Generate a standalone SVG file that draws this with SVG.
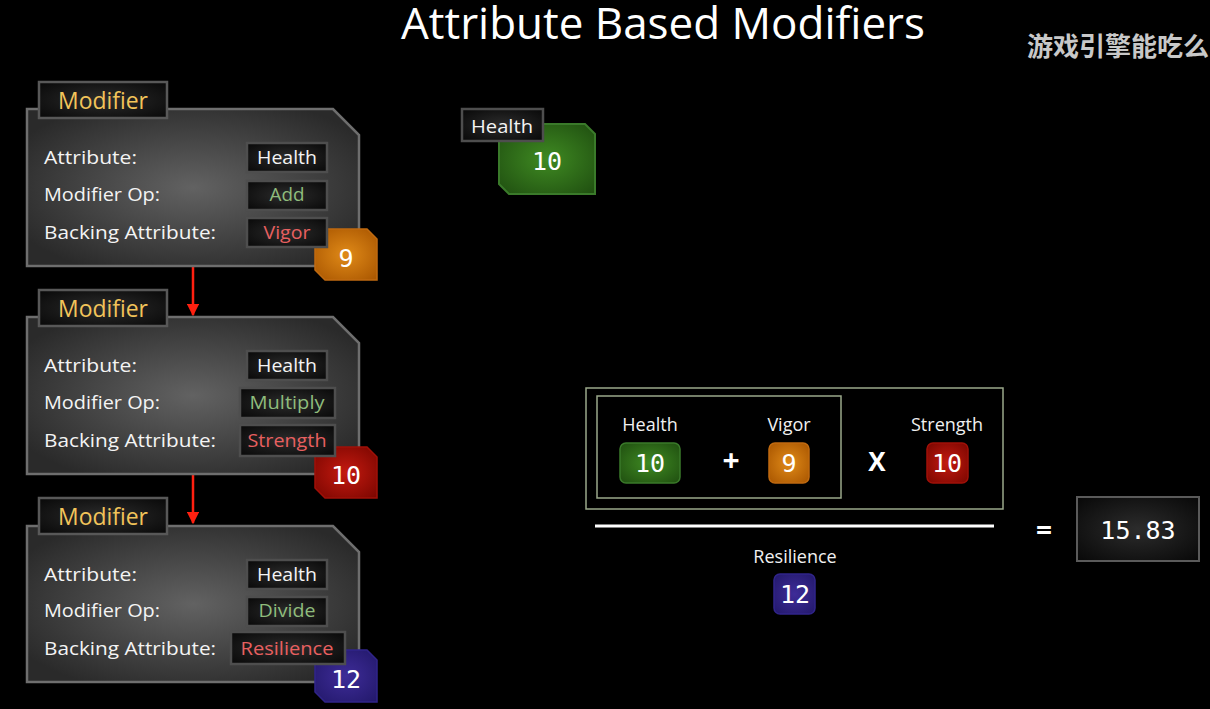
<svg xmlns="http://www.w3.org/2000/svg" width="1210" height="709" viewBox="0 0 1210 709">
<defs>
<radialGradient id="gBody" cx="0.5" cy="0.5" r="0.6"><stop offset="0" stop-color="#626262"/><stop offset="1" stop-color="#2a2a2a"/></radialGradient>
<radialGradient id="gDark" cx="0.5" cy="0.5" r="0.7"><stop offset="0" stop-color="#2c2c2c"/><stop offset="1" stop-color="#080808"/></radialGradient>
<radialGradient id="gGreen" cx="0.5" cy="0.5" r="0.7"><stop offset="0" stop-color="#3f8a22"/><stop offset="1" stop-color="#1f4e10"/></radialGradient>
<radialGradient id="gOrange" cx="0.5" cy="0.5" r="0.7"><stop offset="0" stop-color="#e08a18"/><stop offset="1" stop-color="#a85500"/></radialGradient>
<radialGradient id="gRed" cx="0.5" cy="0.5" r="0.7"><stop offset="0" stop-color="#c41a10"/><stop offset="1" stop-color="#7a0600"/></radialGradient>
<radialGradient id="gPurple" cx="0.5" cy="0.5" r="0.7"><stop offset="0" stop-color="#3e2c98"/><stop offset="1" stop-color="#22186a"/></radialGradient>
<marker id="arr" viewBox="0 0 10 10" refX="9" refY="5" markerWidth="5" markerHeight="5" orient="auto" markerUnits="strokeWidth"><path d="M0,0 L10,5 L0,10 z" fill="#ff2010"/></marker>
</defs>
<style>
.body{fill:url(#gBody);stroke:#6e6e6e;stroke-width:2.5}
.tab{fill:url(#gDark);stroke:#585858;stroke-width:2.5}
.vbox{fill:url(#gDark);stroke:#4e4e4e;stroke-width:2.5}
.title{font-family:"Open Sans","Noto Sans",sans-serif;font-size:23px;fill:#f2c45a}
.lbl{font-family:"Open Sans","Noto Sans",sans-serif;font-size:19px;fill:#f4f4f4}
.val{font-family:"Open Sans","Noto Sans",sans-serif;font-size:19px;text-anchor:middle}
.num{font-family:"DejaVu Sans Mono","Liberation Mono",monospace;font-size:25px;fill:#ffffff;text-anchor:middle}
.small{font-family:"Open Sans","Noto Sans",sans-serif;font-size:18px;fill:#f0f0f0;text-anchor:middle}
.frame{fill:none;stroke:#9aa88a;stroke-width:1.5}
</style>
<rect width="1210" height="709" fill="#000"/>
<text x="401" y="39" font-family="Open Sans,Noto Sans,sans-serif" font-size="44" fill="#fff" textLength="524" lengthAdjust="spacingAndGlyphs">Attribute Based Modifiers</text>
<text x="1027" y="56" font-family="Noto Sans CJK SC,sans-serif" font-weight="bold" font-size="26" fill="#c8c8c8">游戏引擎能吃么</text>

<g id="connectors">
<line x1="193" y1="266" x2="193" y2="315" stroke="#ff2010" stroke-width="2.5" marker-end="url(#arr)"/>
<line x1="193" y1="474" x2="193" y2="523" stroke="#ff2010" stroke-width="2.5" marker-end="url(#arr)"/>
</g>

<g id="modifier1">
<polygon class="body" points="27,109 333,109 359,135 359,266 27,266"/>
<rect class="tab" x="39" y="82" width="128" height="36"/>
<text class="title" x="58" y="109" textLength="90" lengthAdjust="spacingAndGlyphs">Modifier</text>
<text class="lbl" x="44" y="164" textLength="93" lengthAdjust="spacingAndGlyphs">Attribute:</text>
<text class="lbl" x="44" y="201" textLength="116" lengthAdjust="spacingAndGlyphs">Modifier Op:</text>
<text class="lbl" x="44" y="239" textLength="172" lengthAdjust="spacingAndGlyphs">Backing Attribute:</text>
<polygon points="315,229 367,229 377,239 377,280 325,280 315,270" fill="url(#gOrange)" stroke="#c06a10" stroke-width="1.5"/>
<text class="num" x="346" y="267">9</text>
<rect class="vbox" x="247" y="143" width="80" height="29"/>
<text class="val" x="287" y="164" fill="#f4f4f4" textLength="60" lengthAdjust="spacingAndGlyphs">Health</text>
<rect class="vbox" x="247" y="181" width="80" height="29"/>
<text class="val" x="287" y="201" fill="#8fbc7c" textLength="35" lengthAdjust="spacingAndGlyphs">Add</text>
<rect class="vbox" x="247" y="218" width="80" height="29"/>
<text class="val" x="287" y="239" fill="#e86060" textLength="47" lengthAdjust="spacingAndGlyphs">Vigor</text>
</g>

<g id="modifier2">
<polygon class="body" points="27,317 333,317 359,343 359,474 27,474"/>
<rect class="tab" x="39" y="290" width="128" height="36"/>
<text class="title" x="58" y="317" textLength="90" lengthAdjust="spacingAndGlyphs">Modifier</text>
<text class="lbl" x="44" y="372" textLength="93" lengthAdjust="spacingAndGlyphs">Attribute:</text>
<text class="lbl" x="44" y="409" textLength="116" lengthAdjust="spacingAndGlyphs">Modifier Op:</text>
<text class="lbl" x="44" y="447" textLength="172" lengthAdjust="spacingAndGlyphs">Backing Attribute:</text>
<polygon points="315,447 367,447 377,457 377,498 325,498 315,488" fill="url(#gRed)" stroke="#a01008" stroke-width="1.5"/>
<text class="num" x="346" y="484">10</text>
<rect class="vbox" x="247" y="351" width="80" height="29"/>
<text class="val" x="287" y="372" fill="#f4f4f4" textLength="60" lengthAdjust="spacingAndGlyphs">Health</text>
<rect class="vbox" x="240" y="388" width="95" height="30"/>
<text class="val" x="287" y="409" fill="#8fbc7c" textLength="75" lengthAdjust="spacingAndGlyphs">Multiply</text>
<rect class="vbox" x="240" y="425" width="95" height="31"/>
<text class="val" x="287" y="447" fill="#e86060" textLength="79" lengthAdjust="spacingAndGlyphs">Strength</text>
</g>

<g id="modifier3">
<polygon class="body" points="27,526 333,526 359,552 359,682 27,682"/>
<rect class="tab" x="39" y="498" width="128" height="36"/>
<text class="title" x="58" y="525" textLength="90" lengthAdjust="spacingAndGlyphs">Modifier</text>
<text class="lbl" x="44" y="581" textLength="93" lengthAdjust="spacingAndGlyphs">Attribute:</text>
<text class="lbl" x="44" y="617" textLength="116" lengthAdjust="spacingAndGlyphs">Modifier Op:</text>
<text class="lbl" x="44" y="655" textLength="172" lengthAdjust="spacingAndGlyphs">Backing Attribute:</text>
<polygon points="315,650 367,650 377,660 377,702 325,702 315,692" fill="url(#gPurple)" stroke="#30248a" stroke-width="1.5"/>
<text class="num" x="346" y="688">12</text>
<rect class="vbox" x="247" y="560" width="80" height="29"/>
<text class="val" x="287" y="581" fill="#f4f4f4" textLength="60" lengthAdjust="spacingAndGlyphs">Health</text>
<rect class="vbox" x="247" y="597" width="80" height="29"/>
<text class="val" x="287" y="617" fill="#8fbc7c" textLength="57" lengthAdjust="spacingAndGlyphs">Divide</text>
<rect class="vbox" x="231" y="632" width="114" height="32"/>
<text class="val" x="287" y="655" fill="#e86060" textLength="93" lengthAdjust="spacingAndGlyphs">Resilience</text>
</g>

<g id="health-node">
<polygon points="499,124 585,124 595,134 595,194 509,194 499,184" fill="url(#gGreen)" stroke="#3a7a2a" stroke-width="2"/>
<text class="num" x="547" y="170">10</text>
<rect class="vbox" x="462" y="109" width="81" height="32"/>
<text class="val" x="502" y="133" fill="#f4f4f4" textLength="62" lengthAdjust="spacingAndGlyphs">Health</text>
</g>

<g id="formula">
<rect class="frame" x="586" y="388" width="417" height="121"/>
<rect class="frame" x="597" y="396" width="244" height="102"/>
<text class="small" x="650" y="431">Health</text>
<rect x="620" y="443" width="60" height="40" rx="6" fill="url(#gGreen)" stroke="#3a7a2a" stroke-width="1.5"/>
<text class="num" x="650" y="472" font-size="24">10</text>
<text x="731" y="471" font-family="Open Sans,sans-serif" font-size="30" font-weight="bold" fill="#fff" text-anchor="middle">+</text>
<text class="small" x="789" y="431">Vigor</text>
<rect x="769" y="443" width="40" height="40" rx="6" fill="url(#gOrange)" stroke="#c06a10" stroke-width="1.5"/>
<text class="num" x="789" y="472" font-size="24">9</text>
<text x="877" y="471" font-family="Open Sans,sans-serif" font-size="26" font-weight="bold" fill="#fff" text-anchor="middle">X</text>
<text class="small" x="947" y="431">Strength</text>
<rect x="927" y="443" width="41" height="40" rx="6" fill="url(#gRed)" stroke="#a01008" stroke-width="1.5"/>
<text class="num" x="947" y="472" font-size="24">10</text>
<line x1="595" y1="526" x2="994" y2="526" stroke="#fff" stroke-width="3"/>
<text class="small" x="795" y="563">Resilience</text>
<rect x="774" y="574" width="41" height="40" rx="6" fill="url(#gPurple)" stroke="#30248a" stroke-width="1.5"/>
<text class="num" x="795" y="603" font-size="24">12</text>
<text x="1044" y="540" font-family="Open Sans,sans-serif" font-size="28" font-weight="bold" fill="#fff" text-anchor="middle">=</text>
</g>

<g id="result">
<rect x="1077" y="497" width="122" height="64" fill="url(#gDark)" stroke="#5a5a5a" stroke-width="2"/>
<text class="num" x="1138" y="539" fill="#e8e8e8">15.83</text>
</g>
</svg>
